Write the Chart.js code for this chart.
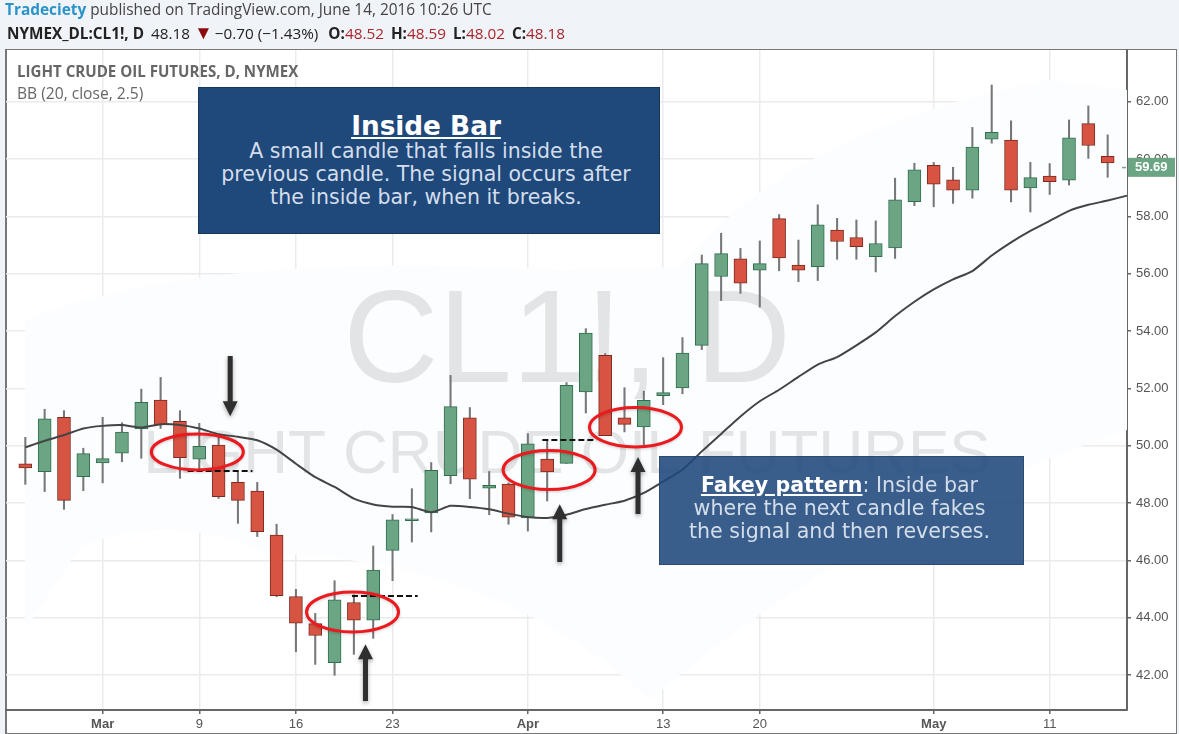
<!DOCTYPE html>
<html>
<head>
<meta charset="utf-8">
<title>Inside Bar</title>
<script src="https://cdn.jsdelivr.net/npm/chart.js@4"></script>
<style>
html, body { margin: 0; padding: 0; background: #f0f3f8; }
body { width: 1179px; height: 734px; overflow: hidden; position: relative; font-family: "Open Sans", sans-serif; }
#frame { position: absolute; left: 5px; top: 49px; width: 1169px; height: 683px; background: #fff; border: 1.5px solid #777; border-left-width: 2px; }
#c { position: absolute; left: 0; top: 0; }
.hd { position: absolute; left: 5px; white-space: nowrap; color: #444; }
#hd1 { top: 0; font-size: 15.4px; line-height: 20px; }
#hd1 b { color: #2a93c9; }
#hd2 { left: 7px; top: 23px; font-size: 15.3px; line-height: 20px; color: #222; }
#hd2 i { font-style: normal; color: #a8262a; }
#hd2 u { text-decoration: none; color: #8c0a0a; font-size: 19px; line-height: 18px; margin-right: -2px; }
#hd2 .sym { margin-right: 3px; }
#hd2 .o { margin-left: 6px; }
#hd2 .q { margin-left: 3px; }
#title { position: absolute; left: 17px; top: 61px; font-size: 15.1px; font-weight: 700; color: #666; white-space: nowrap; }
#sub { position: absolute; left: 17px; top: 82px; font-size: 15.6px; color: #666; white-space: nowrap; }
.box { position: absolute; text-align: center; font-family: "DejaVu Sans", sans-serif; color: #d4deeb; box-sizing: border-box; }
.box b { color: #fff; text-decoration: underline; }
#box1 { left: 198px; top: 87px; width: 462px; height: 147px; padding-right: 6px; background: #1f487b; border: 1px solid #18365c; font-size: 20.5px; line-height: 23px; }
#box1 b { display: block; font-size: 26.3px; line-height: 28px; margin-top: 24px; }
#box2 { left: 659px; top: 456px; width: 365px; height: 109px; padding-right: 4px; background: rgba(31,72,123,.88); border: 1px solid #2b4a72; font-size: 20.6px; line-height: 23px; }
#box2 .t { margin-top: 17px; }
</style>
</head>
<body>
<div id="frame"></div>
<canvas id="c" width="1179" height="734"></canvas>
<div class="hd" id="hd1"><b>Tradeciety</b> published on TradingView.com, June 14, 2016 10:26 UTC</div>
<div class="hd" id="hd2"><b class="sym">NYMEX_DL:CL1!, D</b> 48.18 <u>▼</u> −0.70 (−1.43%) <b class="o">O:</b><i>48.52</i> <b class="q">H:</b><i>48.59</i> <b class="q">L:</b><i>48.02</i> <b class="q">C:</b><i>48.18</i></div>
<div id="title">LIGHT CRUDE OIL FUTURES, D, NYMEX</div>
<div id="sub">BB (20, close, 2.5)</div>
<div class="box" id="box1"><b>Inside Bar</b>A small candle that falls inside the<br>previous candle. The signal occurs after<br>the inside bar, when it breaks.</div>
<div class="box" id="box2"><div class="t"><b>Fakey pattern</b>: Inside bar<br>where the next candle fakes<br>the signal and then reverses.</div></div>
<script>
// x axis slots, one per candle plus a blank one at each end
var categories = ['', '', '', '', '', 'Mar', '', '', '', '', '9', '', '', '', '', '16', '', '', '', '', '23', '', '', '', '', '', '', 'Apr', '', '', '', '', '', '', '13', '', '', '', '', '20', '', '', '', '', '', '', '', '', 'May', '', '', '', '', '', '11', '', '', '', ''];
var monthLabels = ['Mar', 'Apr', 'May'];

var opens = [49.37,49.09,50.99,48.92,49.40,49.74,50.58,51.59,50.85,49.53,50.02,48.72,48.42,46.88,44.74,43.79,42.43,44.53,43.91,46.35,47.38,47.65,48.95,50.97,48.52,48.66,47.48,49.53,49.38,51.87,53.15,50.97,50.65,51.74,52.01,53.50,55.90,56.52,56.12,57.92,56.30,56.24,57.52,57.26,56.59,56.90,58.51,59.78,59.27,58.91,60.69,60.66,58.99,59.40,59.26,61.23,60.09];
var closes = [49.22,50.94,48.09,49.72,49.55,50.47,51.51,50.72,49.58,49.98,48.22,48.09,47.00,44.77,43.81,43.38,44.62,43.91,45.66,47.41,47.45,49.14,51.36,48.83,48.62,47.51,50.06,49.08,52.10,53.93,50.35,50.74,51.58,51.85,53.23,56.35,56.70,55.67,56.35,56.55,56.12,57.70,57.12,56.94,57.05,58.57,59.62,59.12,58.91,60.41,60.93,58.91,59.35,59.21,60.74,60.47,59.86];
var highs = [50.29,51.27,51.22,49.91,50.99,50.80,51.97,52.38,51.22,50.78,50.31,49.09,48.72,47.26,44.99,44.15,45.29,44.80,46.50,47.60,48.50,49.41,52.45,51.33,49.10,48.70,50.42,50.16,52.20,54.08,53.21,52.02,51.90,53.07,53.77,56.65,57.41,56.88,57.14,58.06,57.17,58.40,57.93,57.87,57.84,59.33,59.85,59.88,59.71,61.10,62.58,61.33,59.88,59.84,61.36,61.85,60.84];
var lows = [48.65,48.40,47.78,48.43,48.70,49.44,49.56,50.60,48.86,49.09,48.16,47.29,46.83,44.73,42.81,42.37,41.99,42.72,43.28,45.29,46.64,46.99,48.67,48.15,47.59,47.26,47.02,48.07,49.38,51.14,50.35,50.48,50.01,51.43,51.81,53.35,55.06,55.31,54.83,56.10,55.72,55.76,56.50,56.50,56.06,56.53,58.37,58.33,58.45,58.63,60.55,58.50,58.15,58.76,59.09,60.02,59.36];
var basis = [49.94,50.17,50.37,50.60,50.69,50.72,50.63,50.75,50.72,50.60,50.40,50.31,50.19,49.86,49.37,48.90,48.56,48.15,47.95,47.87,47.86,47.68,47.90,47.86,47.78,47.63,47.51,47.48,47.59,47.79,47.94,48.08,48.35,48.75,49.16,49.80,50.41,51.02,51.55,51.95,52.40,52.83,53.09,53.50,53.95,54.52,55.02,55.45,55.80,56.09,56.63,57.09,57.49,57.84,58.19,58.40,58.55,58.72];
var lastPrice = 59.69;

// hand drawn marks, anchored in candle index / price
var circles = [[8.9, 49.78, 46, 18], [16.93, 44.2, 46, 20], [27.1, 49.15, 46, 19.5], [31.57, 50.64, 46, 19.7]];
var dashes = [[8.4, 11.75, 49.12], [16.9, 20.3, 44.76], [26.75, 29.55, 50.2]];
var arrowsDown = [[10.6, 53.13, 51.03]];
var arrowsUp = [[17.6, 41.09, 43.07], [27.65, 45.94, 47.96], [31.7, 47.62, 49.6]];

var upFill = '#6ba583', upLine = '#2f6f4f', downFill = '#d75442', downLine = '#7e2a20';

function isUp(i) { return closes[i] >= opens[i]; }
function barColors(up, down) {
    return [null].concat(opens.map(function(o, i) { return isUp(i) ? up : down; }));
}

var watermark = {
    id: 'watermark',
    beforeDatasetsDraw: function(chart) {
        var ctx = chart.ctx, a = chart.chartArea;
        ctx.save();
        ctx.beginPath();
        ctx.rect(a.left, a.top, a.right - a.left, a.bottom - a.top);
        ctx.clip();
        // faint cloud behind everything
        ctx.fillStyle = '#fcfdff';
        ctx.beginPath();
        ctx.moveTo(25, 630);
        ctx.lineTo(25, 320);
        ctx.quadraticCurveTo(200, 250, 560, 270);
        ctx.lineTo(680, 267);
        ctx.quadraticCurveTo(790, 130, 1047, 80);
        ctx.lineTo(1127, 90);
        ctx.lineTo(1127, 430);
        ctx.quadraticCurveTo(860, 520, 650, 700);
        ctx.quadraticCurveTo(500, 560, 267, 553);
        ctx.quadraticCurveTo(170, 510, 80, 547);
        ctx.closePath();
        ctx.fill();
        ctx.restore();

        ctx.save();
        ctx.fillStyle = '#e3e4e6';
        ctx.textAlign = 'center';
        ctx.textBaseline = 'alphabetic';
        ctx.font = '132px "Liberation Sans"';
        ctx.fillText('CL1!, D', 567, 382);
        ctx.font = '62px "Liberation Sans"';
        ctx.fillText('LIGHT CRUDE OIL FUTURES', 567, 473);
        ctx.restore();
    }
};

var overlays = {
    id: 'overlays',
    afterDraw: function(chart) {
        var ctx = chart.ctx, x = chart.scales.x, y = chart.scales.y;
        // slot 0 of the axis is the blank one, candle i sits at slot i + 1
        function px(i) { return x.getPixelForValue(i + 1); }

        var tagY = y.getPixelForValue(lastPrice);
        ctx.save();
        ctx.fillStyle = upFill;
        ctx.fillRect(x.right + 1, tagY - 10, 47, 19);
        ctx.fillRect(x.right - 5, tagY - 1, 4, 1.5);
        ctx.fillStyle = '#fff';
        ctx.font = 'bold 13px "Liberation Sans"';
        ctx.textBaseline = 'middle';
        ctx.fillText(lastPrice.toFixed(2), x.right + 8, tagY);
        ctx.restore();

        ctx.save();
        ctx.strokeStyle = '#111';
        ctx.lineWidth = 2;
        ctx.setLineDash([6, 3]);
        dashes.forEach(function(d) {
            var py = y.getPixelForValue(d[2]);
            ctx.beginPath();
            ctx.moveTo(px(d[0]), py);
            ctx.lineTo(px(d[1]), py);
            ctx.stroke();
        });
        ctx.restore();

        ctx.save();
        ctx.strokeStyle = '#ec1a1f';
        ctx.lineWidth = 3;
        ctx.shadowColor = 'rgba(0,0,0,.2)';
        ctx.shadowBlur = 3;
        ctx.shadowOffsetY = 1;
        circles.forEach(function(c) {
            ctx.beginPath();
            ctx.ellipse(px(c[0]), y.getPixelForValue(c[1]), c[2], c[3], 0, 0, Math.PI * 2);
            ctx.stroke();
        });
        ctx.restore();

        function arrow(a) {
            var ax = px(a[0]), from = y.getPixelForValue(a[1]), to = y.getPixelForValue(a[2]);
            var dir = to > from ? 1 : -1;
            ctx.beginPath();
            ctx.moveTo(ax - 2.5, from);
            ctx.lineTo(ax + 2.5, from);
            ctx.lineTo(ax + 2.5, to - dir * 15);
            ctx.lineTo(ax + 7.5, to - dir * 15);
            ctx.lineTo(ax, to);
            ctx.lineTo(ax - 7.5, to - dir * 15);
            ctx.lineTo(ax - 2.5, to - dir * 15);
            ctx.closePath();
            ctx.fill();
        }
        ctx.save();
        ctx.fillStyle = '#2f2f2f';
        ctx.shadowColor = 'rgba(0,0,0,.35)';
        ctx.shadowBlur = 4;
        ctx.shadowOffsetY = 2;
        arrowsDown.forEach(arrow);
        arrowsUp.forEach(arrow);
        ctx.restore();
    }
};

new Chart(document.getElementById('c').getContext('2d'), {
    type: 'bar',
    data: {
        labels: categories,
        datasets: [
            {
                type: 'line',
                label: 'BB basis',
                data: [null].concat(basis),
                borderColor: '#444',
                borderWidth: 2,
                pointRadius: 0,
                tension: 0.2,
                order: 0
            },
            {
                label: 'Body',
                data: [null].concat(opens.map(function(o, i) { return [o, closes[i]]; })),
                backgroundColor: barColors(upFill, downFill),
                borderColor: barColors(upLine, downLine),
                borderWidth: 1,
                borderSkipped: false,
                barThickness: 13,
                grouped: false,
                order: 1
            },
            {
                label: 'Wick',
                data: [null].concat(lows.map(function(l, i) { return [l, highs[i]]; })),
                backgroundColor: '#777',
                barThickness: 1.4,
                grouped: false,
                order: 2
            }
        ]
    },
    options: {
        responsive: false,
        animation: false,
        layout: { padding: { left: 6, top: 50, right: 0, bottom: 0 } },
        plugins: { legend: { display: false }, tooltip: { enabled: false } },
        scales: {
            x: {
                type: 'category',
                offset: false,
                afterFit: function(s) { s.height = 24; },
                border: { color: '#666', width: 2 },
                grid: {
                    offset: false,
                    lineWidth: 1.5,
                    tickLength: 4,
                    color: function(ctx) { return ctx.tick && ctx.tick.label ? '#eaebed' : 'transparent'; },
                    tickColor: function(ctx) { return ctx.tick && ctx.tick.label ? '#666' : 'transparent'; }
                },
                ticks: {
                    autoSkip: false,
                    maxRotation: 0,
                    padding: 3,
                    color: '#555',
                    font: function(ctx) {
                        var bold = ctx.tick && monthLabels.indexOf(ctx.tick.label) >= 0;
                        return { family: '"Liberation Sans"', size: 13, weight: bold ? 'bold' : 'normal' };
                    }
                }
            },
            y: {
                position: 'right',
                min: 40.78,
                max: 63.8,
                afterFit: function(s) { s.width = 52; },
                border: { color: '#666', width: 2 },
                grid: { lineWidth: 1.5, color: '#eaebed', tickColor: '#666', tickLength: 4 },
                ticks: {
                    stepSize: 2,
                    includeBounds: false,
                    padding: 5,
                    color: '#555',
                    font: { family: '"Liberation Sans"', size: 13 },
                    callback: function(v) { return v.toFixed(2); }
                }
            }
        }
    },
    plugins: [watermark, overlays]
});
</script>
</body>
</html>
